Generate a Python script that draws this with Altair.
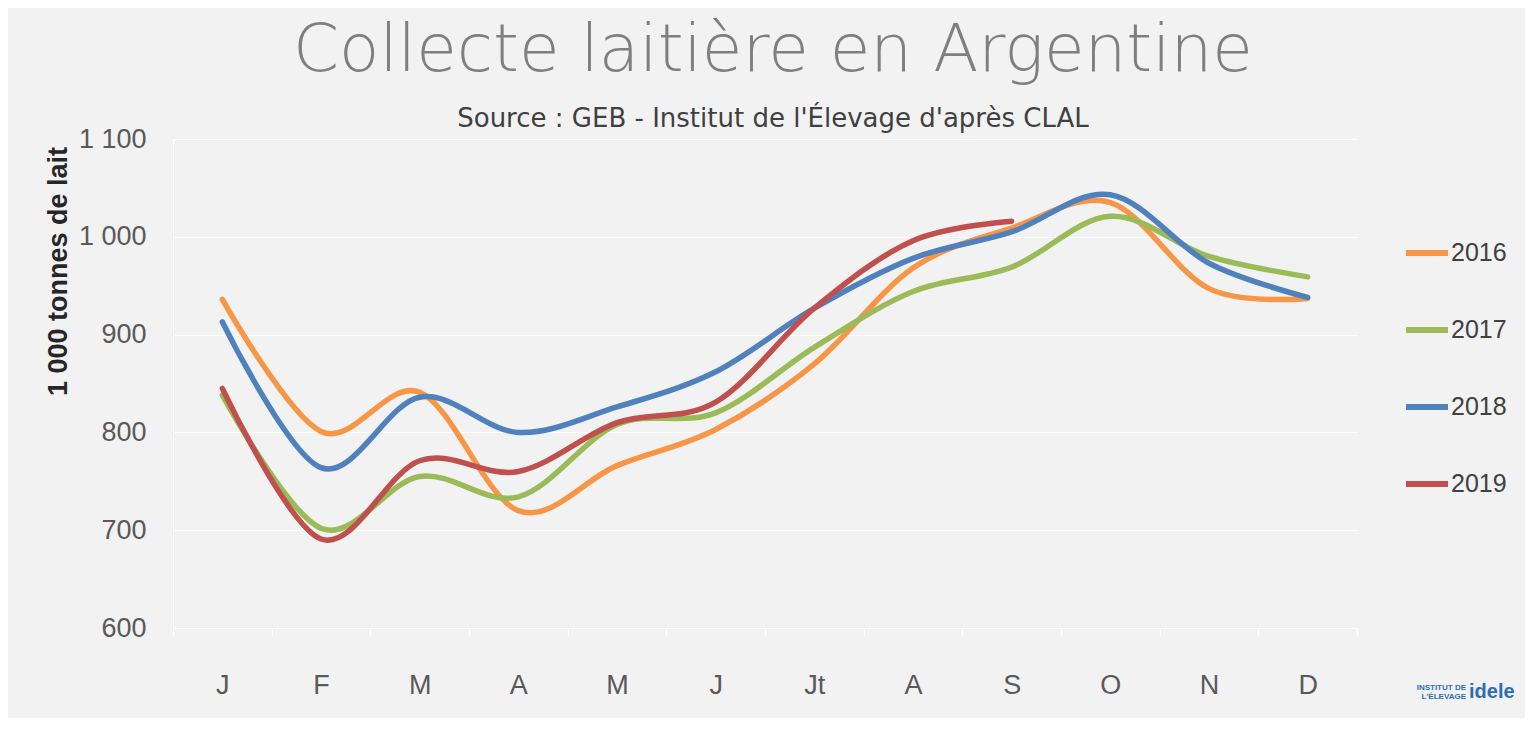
import altair as alt
import pandas as pd

months = ["J", "F", "M", "A", "M", "J", "Jt", "A", "S", "O", "N", "D"]
years = ["2016", "2017", "2018", "2019"]
v2016 = [936, 801, 841, 720, 766, 803, 870, 968, 1009, 1035, 947, 937]
v2017 = [838, 702, 755, 734, 808, 820, 887, 944, 969, 1021, 980, 959]
v2018 = [913, 764, 836, 800, 826, 862, 927, 978, 1005, 1043, 973, 938]
v2019 = [845, 691, 771, 760, 810, 831, 927, 996, 1016]
colors = ["#F79646", "#9BBB59", "#4F81BD", "#C0504D"]
y_ticks = [600, 700, 800, 900, 1000, 1100]
logo_small = ["INSTITUT DE", "L'ÉLEVAGE"]
logo_big = ["idele"]

rows = []
for year, vals in zip(years, [v2016, v2017, v2018, v2019]):
    for i, v in enumerate(vals):
        rows.append({"idx": i, "annee": year, "valeur": v})
df = pd.DataFrame(rows)

label_array = "[" + ",".join("'" + m + "'" for m in months) + "]"
FONT = "Liberation Sans"
TFONT = "DejaVu Sans"
LOGO_BLUE = "#2E6DB4"

lines = (
    alt.Chart(df)
    .mark_line(interpolate="cardinal", strokeWidth=5.5, strokeCap="round")
    .encode(
        x=alt.X(
            "idx:O",
            bandPosition=0.5,
            scale=alt.Scale(type="band", paddingInner=0, paddingOuter=0),
            axis=alt.Axis(
                title=None,
                labelExpr=label_array + "[datum.value]",
                labelAngle=0,
                labelFont=FONT,
                labelFontSize=27,
                labelColor="#595959",
                labelPadding=36,
                tickBand="extent",
                tickSize=8,
                tickColor="#FFFFFF",
                domainColor="#FFFFFF",
                grid=False,
            ),
        ),
        y=alt.Y(
            "valeur:Q",
            scale=alt.Scale(domain=[600, 1100], nice=False, zero=False),
            axis=alt.Axis(
                title="1 000 tonnes de lait",
                titleFont=FONT,
                titleFontSize=27,
                titleFontWeight="bold",
                titleColor="#262626",
                titleX=-115,
                titleY=132,
                titleBaseline="middle",
                titleAlign="center",
                titleAngle=270,
                values=y_ticks,
                labelExpr="replace(format(datum.value, ','), ',', ' ')",
                labelFont=FONT,
                labelFontSize=27,
                labelColor="#595959",
                labelPadding=27,
                ticks=False,
                domainColor="#FFFFFF",
                gridColor="#FFFFFF",
                gridWidth=1,
            ),
        ),
        color=alt.Color(
            "annee:N",
            scale=alt.Scale(domain=years, range=colors),
            legend=alt.Legend(
                title=None,
                orient="none",
                legendX=1230,
                legendY=90,
                symbolType="stroke",
                symbolSize=1764,
                symbolStrokeWidth=6,
                labelFont=FONT,
                labelFontSize=25,
                labelColor="#404040",
                labelOffset=0,
                rowPadding=40,
            ),
        ),
        detail="annee:N",
    )
)

logo_small_a = (
    alt.Chart(pd.DataFrame({"t": [logo_small[0]]}))
    .mark_text(font=FONT, fontSize=8, fontWeight="bold", color=LOGO_BLUE, align="right", baseline="middle")
    .encode(text="t:N", x=alt.value(1293), y=alt.value(549))
)
logo_small_b = (
    alt.Chart(pd.DataFrame({"t": [logo_small[1]]}))
    .mark_text(font=FONT, fontSize=8, fontWeight="bold", color=LOGO_BLUE, align="right", baseline="middle")
    .encode(text="t:N", x=alt.value(1293), y=alt.value(558))
)
logo_big_text = (
    alt.Chart(pd.DataFrame({"t": logo_big}))
    .mark_text(font=FONT, fontSize=20, fontWeight="bold", color=LOGO_BLUE, align="left", baseline="middle")
    .encode(text="t:N", x=alt.value(1296), y=alt.value(553))
)

chart = (
    alt.layer(lines, logo_small_a, logo_small_b, logo_big_text)
    .properties(
        width=1184,
        height=489,
        padding={"left": 165, "top": 131, "right": 168, "bottom": 90},
        autosize=alt.AutoSizeParams(type="none"),
        background="#F2F2F2",
        title=alt.TitleParams(
            text="Collecte laitière en Argentine",
            subtitle="Source : GEB - Institut de l'Élevage d'après CLAL",
            anchor="middle",
            frame="group",
            font=TFONT,
            fontSize=66,
            fontWeight=200,
            color="#7F7F7F",
            subtitleFont=TFONT,
            subtitleFontSize=26,
            subtitleFontWeight="normal",
            subtitleColor="#404040",
            subtitlePadding=21,
            offset=-8,
            dx=8,
        ),
    )
    .configure_view(stroke=None)
)

chart.save("out.html", embed_options={"renderer": "svg", "actions": False})
